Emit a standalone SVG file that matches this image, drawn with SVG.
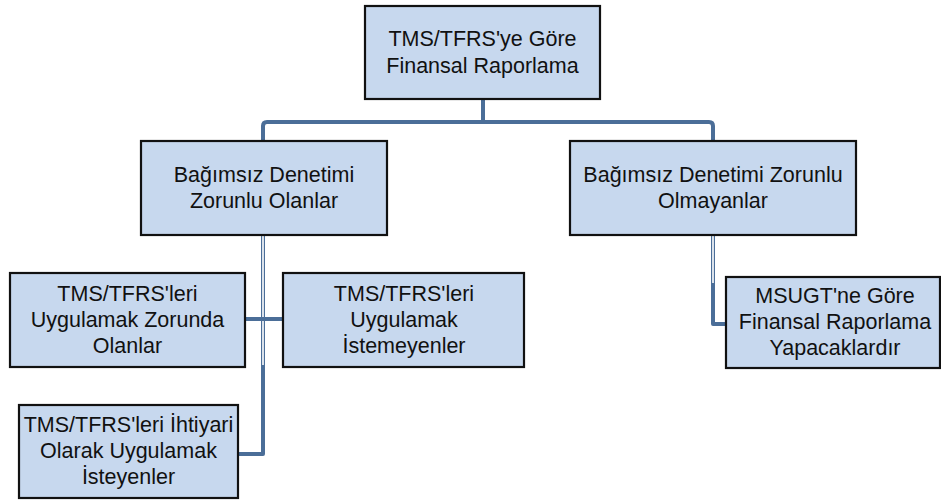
<svg xmlns="http://www.w3.org/2000/svg" width="941" height="502" viewBox="0 0 941 502">
<style>
.box{fill:#c7d8ee;stroke:#111;stroke-width:2.2}
.t{font-family:"Liberation Sans",Arial,sans-serif;font-size:21.5px;fill:#111;text-anchor:middle}
.c{fill:none;stroke:#4b6e98;stroke-width:4;stroke-linejoin:round}
.h{fill:none;stroke:#fff;stroke-width:1.6}
</style>
<rect width="941" height="502" fill="#fff"/>
<g id="connectors">
<path class="c" d="M483,99 V122"/>
<path class="c" d="M263,141 V126 Q263,122 267,122 H709 Q713,122 713,126 V141"/>
<path class="c" d="M263,235 V454 H238"/>
<path class="h" d="M263,236 V365"/>
<path class="c" d="M245,319 H283"/>
<path class="c" d="M713,235 V324 H726"/>
<path class="h" d="M713,236 V283"/>
</g>
<g id="root">
<rect class="box" x="365" y="6" width="235" height="93"/>
<text class="t" x="482.5" y="46">TMS/TFRS'ye Göre</text>
<text class="t" x="482.5" y="73">Finansal Raporlama</text>
</g>
<g id="zorunlu">
<rect class="box" x="141" y="141" width="246" height="94"/>
<text class="t" x="264" y="182">Bağımsız Denetimi</text>
<text class="t" x="264" y="208">Zorunlu Olanlar</text>
</g>
<g id="zorunlu-olmayan">
<rect class="box" x="570" y="141" width="286" height="94"/>
<text class="t" x="713" y="182">Bağımsız Denetimi Zorunlu</text>
<text class="t" x="713" y="208">Olmayanlar</text>
</g>
<g id="uygulamak-zorunda">
<rect class="box" x="10" y="273" width="235" height="94"/>
<text class="t" x="127.5" y="301">TMS/TFRS'leri</text>
<text class="t" x="127.5" y="327">Uygulamak Zorunda</text>
<text class="t" x="127.5" y="353">Olanlar</text>
</g>
<g id="istemeyenler">
<rect class="box" x="283" y="273" width="241" height="94"/>
<text class="t" x="404" y="301">TMS/TFRS'leri</text>
<text class="t" x="404" y="327">Uygulamak</text>
<text class="t" x="404" y="353">İstemeyenler</text>
</g>
<g id="ihtiyari">
<rect class="box" x="19" y="405" width="219" height="93"/>
<text class="t" x="128.5" y="432">TMS/TFRS'leri İhtiyari</text>
<text class="t" x="128.5" y="458">Olarak Uygulamak</text>
<text class="t" x="128.5" y="484">İsteyenler</text>
</g>
<g id="msugt">
<rect class="box" x="726" y="277" width="214" height="91"/>
<text class="t" x="835" y="303">MSUGT'ne Göre</text>
<text class="t" x="835" y="329">Finansal Raporlama</text>
<text class="t" x="835" y="355">Yapacaklardır</text>
</g>
</svg>
